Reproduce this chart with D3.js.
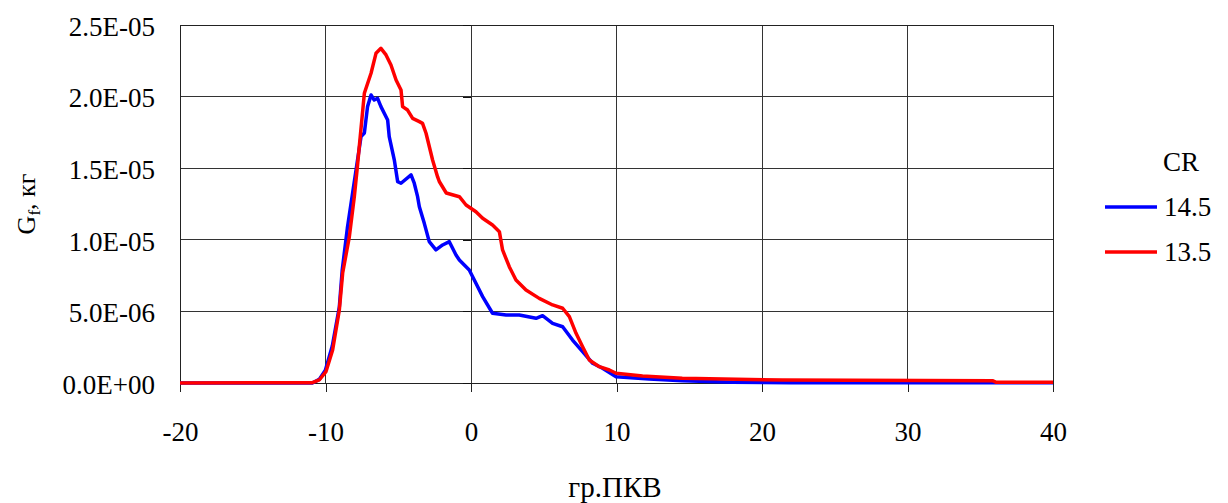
<!DOCTYPE html>
<html>
<head>
<meta charset="utf-8">
<script src="https://cdn.jsdelivr.net/npm/d3@7"></script>
<style>
  html, body { margin: 0; padding: 0; background: #fff; }
  svg { display: block; }
  svg text { font-family: "Liberation Serif", "Times New Roman", serif; fill: #000; }
</style>
</head>
<body>
<svg id="chart" width="1228" height="503"></svg>
<script>
// Crank angle, degrees (гр.ПКВ)
const xTicks = [-20, -10, 0, 10, 20, 30, 40];
// Fuel mass, kg
const yTicks = [0, 5e-6, 1e-5, 1.5e-5, 2e-5, 2.5e-5];
const yTickLabels = ["0.0E+00", "5.0E-06", "1.0E-05", "1.5E-05", "2.0E-05", "2.5E-05"];

// CR = 14.5 (mass in 1e-6 kg)
const angle145 = [-20, -10.9, -10.43, -10.01, -9.53, -9.05, -8.85, -8.5, -8.14, -7.56, -7.33, -7.11, -6.87, -6.65, -6.42, -6.19, -5.73, -5.62, -5.27, -5.04, -4.81, -4.12, -3.9, -3.67, -3.55, -3.21, -2.87, -2.41, -1.95, -1.49, -1.03, -0.8, -0.12, 0.34, 0.8, 1.48, 2.41, 3.32, 4.47, 4.92, 5.61, 6.3, 6.98, 7.67, 8.36, 9.04, 9.97, 12.25, 14.52, 17.96, 22, 40];
const mass145 = [0, 0, 0.25, 0.9, 2.6, 5.3, 7.9, 10.8, 13.25, 17.2, 17.46, 19.3, 20.11, 19.76, 19.88, 19.3, 18.37, 17.2, 15.57, 14.06, 13.95, 14.53, 13.95, 13.01, 12.31, 11.15, 9.87, 9.29, 9.64, 9.87, 8.94, 8.59, 7.89, 6.96, 6.03, 4.87, 4.75, 4.75, 4.52, 4.7, 4.17, 3.93, 3.0, 2.19, 1.38, 1.03, 0.44, 0.28, 0.16, 0.05, 0.02, 0.02];

// CR = 13.5 (mass in 1e-6 kg)
const angle135 = [-20, -10.9, -10.43, -9.97, -9.51, -9.05, -8.82, -8.36, -8.02, -7.81, -7.33, -6.87, -6.53, -6.19, -5.84, -5.5, -5.15, -4.81, -4.7, -4.36, -4.01, -3.55, -3.33, -3.09, -2.64, -2.3, -2.18, -1.7, -0.8, -0.34, 0.34, 0.8, 1.48, 1.95, 2.17, 2.63, 3.09, 3.78, 4.69, 5.61, 6.3, 6.76, 7.22, 7.67, 8.13, 8.82, 9.51, 9.97, 11.79, 14.52, 21.4, 35.84, 36.1, 40];
const mass135 = [0, 0.02, 0.21, 0.79, 2.3, 5.1, 7.68, 10.22, 13.01, 15.1, 20.23, 21.63, 23.02, 23.37, 22.91, 22.21, 21.16, 20.46, 19.3, 19.06, 18.48, 18.25, 18.13, 17.44, 15.57, 14.41, 14.07, 13.27, 13.01, 12.43, 11.96, 11.5, 11.03, 10.57, 9.29, 8.12, 7.19, 6.49, 5.91, 5.45, 5.22, 4.63, 3.47, 2.53, 1.61, 1.14, 0.91, 0.68, 0.49, 0.33, 0.21, 0.16, 0.05, 0.05];

const seriesNames = ["14.5", "13.5"];
const seriesColors = ["#0000ff", "#ff0000"];

const svg = d3.select("#chart");
const margin = { left: 180, right: 1053, top: 25, bottom: 383 };
const fontSize = 27;

const x = d3.scaleLinear().domain([-20, 40]).range([margin.left, margin.right]);
const y = d3.scaleLinear().domain([0, 2.5e-5]).range([margin.bottom, margin.top]);

const grid = svg.append("g").attr("stroke", "#333").attr("stroke-width", 1).attr("shape-rendering", "crispEdges");

// horizontal gridlines
grid.selectAll("line.h").data(yTicks).join("line")
  .attr("class", "h")
  .attr("x1", margin.left).attr("x2", margin.right)
  .attr("y1", d => y(d)).attr("y2", d => y(d));

// vertical gridlines
grid.selectAll("line.v").data(xTicks).join("line")
  .attr("class", "v")
  .attr("x1", d => x(d)).attr("x2", d => x(d))
  .attr("y1", margin.top).attr("y2", margin.bottom);

// plot frame
svg.append("rect")
  .attr("x", margin.left).attr("y", margin.top)
  .attr("width", margin.right - margin.left).attr("height", margin.bottom - margin.top)
  .attr("fill", "none").attr("stroke", "#222").attr("stroke-width", 1)
  .attr("shape-rendering", "crispEdges");

// x axis with downward ticks
const xAxis = d3.axisBottom(x).tickValues(xTicks).tickSize(9).tickPadding(30)
  .tickFormat(d => d < 0 ? "-" + Math.abs(d) : String(d));
const gx = svg.append("g").attr("transform", `translate(0,${margin.bottom})`).call(xAxis);
gx.attr("font-family", null).attr("font-size", null);
gx.select(".domain").remove();
gx.selectAll(".tick line").attr("stroke", "#222").attr("shape-rendering", "crispEdges");
gx.selectAll(".tick text").attr("font-size", fontSize).attr("dy", "0.71em");

// y axis ticks sit on the zero-angle line; labels at the left side
const yAxis = d3.axisLeft(y).tickValues(yTicks).tickSize(8).tickFormat("");
const gy = svg.append("g").attr("transform", `translate(${x(0)},0)`).call(yAxis);
gy.select(".domain").remove();
gy.selectAll(".tick line").attr("stroke", "#111").attr("shape-rendering", "crispEdges");

svg.append("g").selectAll("text").data(yTicks).join("text")
  .attr("x", 155).attr("y", d => y(d))
  .attr("dy", "0.4em")
  .attr("text-anchor", "end")
  .attr("font-size", fontSize)
  .text((d, i) => yTickLabels[i]);

// data lines
const line = d3.line().x(d => x(d[0])).y(d => y(d[1] * 1e-6)).curve(d3.curveLinear);
const series = [
  d3.zip(angle145, mass145),
  d3.zip(angle135, mass135)
];
svg.append("g").selectAll("path").data(series).join("path")
  .attr("d", line)
  .attr("fill", "none")
  .attr("stroke", (d, i) => seriesColors[i])
  .attr("stroke-width", 3.5)
  .attr("stroke-linejoin", "round");

// axis titles
svg.append("text")
  .attr("x", 615).attr("y", 497)
  .attr("text-anchor", "middle").attr("font-size", 29)
  .text("гр.ПКВ");

const yt = svg.append("text")
  .attr("transform", `translate(35,${(margin.top + margin.bottom) / 2}) rotate(-90)`)
  .attr("text-anchor", "middle").attr("font-size", 26);
yt.append("tspan").text("G");
yt.append("tspan").attr("font-size", 17).attr("dy", 5).text("f");
yt.append("tspan").attr("dy", -5).text(", кг");

// legend
const legend = svg.append("g");
legend.append("text")
  .attr("x", 1163).attr("y", 170.7)
  .attr("font-size", fontSize).text("CR");
const items = legend.selectAll("g.item").data(seriesNames).join("g")
  .attr("class", "item")
  .attr("transform", (d, i) => `translate(0,${207 + i * 45})`);
items.append("line")
  .attr("x1", 1105).attr("x2", 1157).attr("y1", 0).attr("y2", 0)
  .attr("stroke", (d, i) => seriesColors[i]).attr("stroke-width", 3.5);
items.append("text")
  .attr("x", 1164).attr("y", 8.5)
  .attr("font-size", fontSize).text(d => d);
</script>
</body>
</html>
